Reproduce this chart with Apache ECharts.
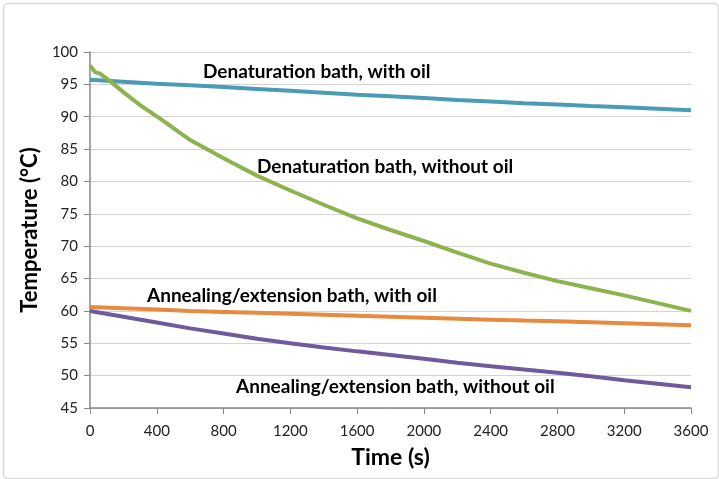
<!DOCTYPE html>
<html>
<head>
<meta charset="utf-8">
<script src="https://cdn.jsdelivr.net/npm/echarts@6/dist/echarts.min.js"></script>
<style>
html,body{margin:0;padding:0;background:#fff;}
#chart{width:719px;height:479px;}
</style>
</head>
<body>
<div id="chart"></div>
<script>
// Time (s)
var times = [0,200,400,600,800,1000,1200,1400,1600,1800,2000,2200,2400,2600,2800,3000,3200,3400,3600];
var denatWithOil = [95.7,95.4,95.1,94.85,94.6,94.3,94.0,93.7,93.4,93.15,92.9,92.6,92.35,92.1,91.9,91.65,91.45,91.25,91.0];
// green series read at its own sample times
var denatWithoutOilTimes = [0,30,60,120,200,300,420,600,800,1000,1200,1400,1600,1800,2000,2200,2400,2600,2800,3000,3200,3400,3600];
var denatWithoutOil = [97.9,96.9,96.65,95.5,93.8,91.8,89.7,86.4,83.6,80.9,78.6,76.4,74.3,72.5,70.8,69.0,67.3,65.9,64.6,63.5,62.4,61.2,60.0];
var annealWithOil = [60.6,60.4,60.2,60.0,59.85,59.7,59.55,59.4,59.25,59.1,58.95,58.8,58.65,58.5,58.4,58.25,58.1,57.95,57.8];
var annealWithoutOil = [60.0,59.1,58.2,57.3,56.5,55.7,55.0,54.35,53.75,53.2,52.6,52.0,51.45,50.95,50.45,49.9,49.3,48.75,48.2];
var xTicks = [0,400,800,1200,1600,2000,2400,2800,3200,3600];
var yTicks = [45,50,55,60,65,70,75,80,85,90,95,100];

var seriesNames = ['Denaturation bath, with oil','Denaturation bath, without oil','Annealing/extension bath, with oil','Annealing/extension bath, without oil'];
var colors = ['#4a9bb6','#8db34e','#e58a3e','#6e5a9c'];

function pairs(xs, ys){ return xs.map(function(x,i){ return [x, ys[i]]; }); }

var chart = echarts.init(document.getElementById('chart'), null, {renderer:'canvas'});
var labelFont = 'Lato, "Open Sans", sans-serif';
chart.setOption({
  animation:false,
  backgroundColor:'#fff',
  grid:{left:90,right:28,top:52,bottom:71},
  xAxis:{
    type:'value', min:xTicks[0], max:xTicks[xTicks.length-1], interval:400,
    name:'Time (s)', nameLocation:'middle', nameGap:38,
    nameTextStyle:{fontFamily:labelFont,fontWeight:'bold',fontSize:23,color:'#000'},
    axisLine:{show:true,lineStyle:{color:'#888',width:1.5}},
    axisTick:{show:true,length:6,lineStyle:{color:'#888'}},
    axisLabel:{fontFamily:labelFont,fontSize:15,color:'#222',margin:16,formatter:function(v){return String(v);}},
    splitLine:{show:false}
  },
  yAxis:{
    type:'value', min:yTicks[0], max:yTicks[yTicks.length-1], interval:5,
    name:'Temperature (°C)', nameLocation:'middle', nameGap:47,
    nameTextStyle:{fontFamily:labelFont,fontWeight:'bold',fontSize:22,color:'#000'},
    axisLine:{show:true,lineStyle:{color:'#888',width:1.5}},
    axisTick:{show:true,length:6,lineStyle:{color:'#888'}},
    axisLabel:{fontFamily:labelFont,fontSize:15,color:'#222',margin:12},
    splitLine:{show:true,lineStyle:{color:'#d4d4d4',width:1}}
  },
  series:[
    {name:seriesNames[0],type:'line',showSymbol:false,data:pairs(times,denatWithOil),lineStyle:{color:colors[0],width:4},itemStyle:{color:colors[0]}},
    {name:seriesNames[1],type:'line',showSymbol:false,data:pairs(denatWithoutOilTimes,denatWithoutOil),lineStyle:{color:colors[1],width:4},itemStyle:{color:colors[1]}},
    {name:seriesNames[2],type:'line',showSymbol:false,data:pairs(times,annealWithOil),lineStyle:{color:colors[2],width:4},itemStyle:{color:colors[2]}},
    {name:seriesNames[3],type:'line',showSymbol:false,data:pairs(times,annealWithoutOil),lineStyle:{color:colors[3],width:4},itemStyle:{color:colors[3]}}
  ],
  graphic:[
    {type:'rect',left:1,top:1,shape:{width:715,height:475,r:4},style:{fill:'none',stroke:'#d9d9d9',lineWidth:1.5},silent:true},
    {type:'text',left:203,top:62,style:{text:seriesNames[0],font:'bold 19px '+labelFont,fill:'#000'}},
    {type:'text',left:257,top:157,style:{text:seriesNames[1],font:'bold 19px '+labelFont,fill:'#000'}},
    {type:'text',left:147,top:286,style:{text:seriesNames[2],font:'bold 19px '+labelFont,fill:'#000'}},
    {type:'text',left:236,top:377,style:{text:seriesNames[3],font:'bold 19px '+labelFont,fill:'#000'}}
  ]
});
</script>
</body>
</html>
